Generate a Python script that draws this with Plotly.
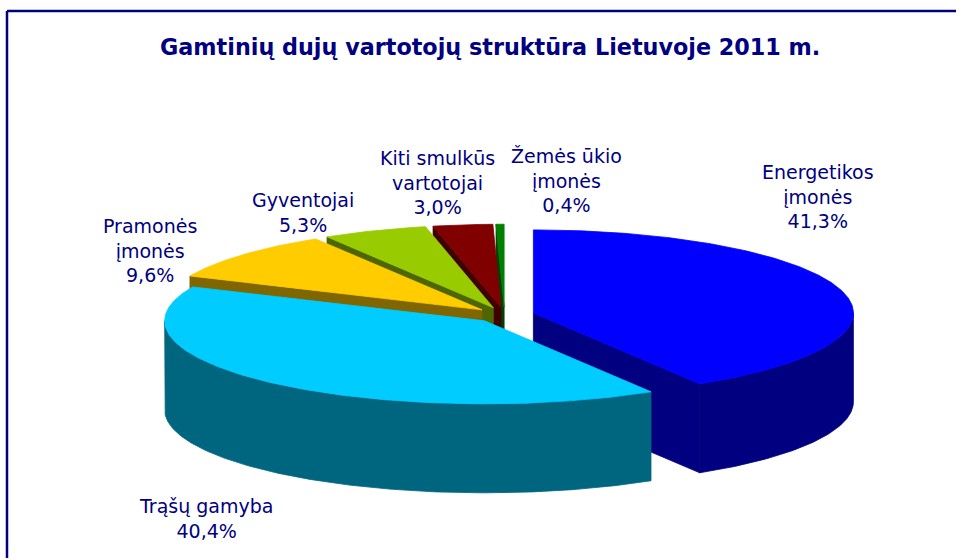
import numpy as np
import plotly.graph_objects as go

# ---------------- data ----------------
categories = ["Energetikos<br>įmonės", "Trąšų gamyba", "Pramonės<br>įmonės",
              "Gyventojai", "Kiti smulkūs<br>vartotojai", "Žemės ūkio<br>įmonės"]
values = [41.3, 40.4, 9.6, 5.3, 3.0, 0.4]
title_text = "Gamtinių dujų vartotojų struktūra Lietuvoje 2011 m."

# ---------------- styles / layout ----------------
top_colors = ["#0000FF", "#00CCFF", "#FFCC00", "#99CC00", "#800000", "#008000"]
side_colors = ["#000080", "#006680", "#806600", "#4D6600", "#400000", "#004000"]
label_pos = [(818, 196), (206, 518), (150, 250), (303, 212), (437, 182), (566, 180)]
text_color = "#000080"
FONT = "DejaVu Sans"

W, H = 960, 560
CX, CY = 504.5, 315       # pie centre (pixels)
RX, RY = 320, 83          # ellipse radii of the top face
DEPTH = 89                # thickness
EXPLODE = 30              # explosion distance
draw_order = [5, 4, 3, 2, 0, 1]   # back to front

total = sum(values)
bounds = np.concatenate([[0.0], np.cumsum(values)]) / total * 360.0


def centre(mid):
    r = np.radians(mid)
    return (CX + EXPLODE * np.sin(r), CY - EXPLODE * (RY / RX) * np.cos(r))


def arc(c, a0, a1, dz=0.0, n=None):
    if n is None:
        n = max(2, int(abs(a1 - a0) * 1.5) + 2)
    th = np.radians(np.linspace(a0, a1, n))
    return list(c[0] + RX * np.sin(th)), list(c[1] - RY * np.cos(th) + dz)


fig = go.Figure()


def poly(xs, ys, color):
    fig.add_trace(go.Scatter(x=xs + [xs[0]], y=ys + [ys[0]], mode="lines",
                             fill="toself", fillcolor=color,
                             line=dict(color=color, width=0.8),
                             hoverinfo="skip", showlegend=False))


for i in draw_order:
    s, t = bounds[i], bounds[i + 1]
    c = centre((s + t) / 2)
    # outer wall (front-facing part only)
    w0, w1 = max(s, 90.0), min(t, 270.0)
    if w1 > w0:
        tx, ty = arc(c, w0, w1)
        bx, by = arc(c, w1, w0, DEPTH)
        poly(tx + bx, ty + by, side_colors[i])
    # radial faces
    for ang, visible in ((s, np.sin(np.radians(s)) < -1e-6),
                         (t, np.sin(np.radians(t)) > 1e-6)):
        if visible:
            px, py = arc(c, ang, ang, n=1)
            poly([c[0], px[0], px[0], c[0]],
                 [c[1], py[0], py[0] + DEPTH, c[1] + DEPTH], side_colors[i])
    # top face
    tx, ty = arc(c, s, t)
    poly([c[0]] + tx, [c[1]] + ty, top_colors[i])

annotations = []
for i, (name, v) in enumerate(zip(categories, values)):
    txt = f"{name}<br>{v:.1f}".replace(".", ",") + "%"
    annotations.append(dict(x=label_pos[i][0], y=label_pos[i][1], xref="x", yref="y",
                            text=txt, showarrow=False, xanchor="center", yanchor="middle",
                            font=dict(family=FONT, size=19, color=text_color)))
annotations.append(dict(x=490, y=47, xref="x", yref="y", text=f"<b>{title_text}</b>",
                        showarrow=False, xanchor="center", yanchor="middle",
                        font=dict(family=FONT, size=22.3, color=text_color)))

# chart frame: left and top edges only
shapes = [
    dict(type="line", xref="x", yref="y", x0=7, y0=11, x1=W - 4, y1=11,
         line=dict(color=text_color, width=2.5), layer="above"),
    dict(type="line", xref="x", yref="y", x0=7, y0=11, x1=7, y1=H - 2,
         line=dict(color=text_color, width=2.5), layer="above"),
]

fig.update_layout(
    width=W, height=H, autosize=False,
    margin=dict(l=0, r=0, t=0, b=0, pad=0),
    paper_bgcolor="white", plot_bgcolor="white",
    xaxis=dict(range=[0, W], visible=False, showline=False, showgrid=False,
               zeroline=False, fixedrange=True),
    yaxis=dict(range=[H, 0], visible=False, showline=False, showgrid=False,
               zeroline=False, fixedrange=True),
    annotations=annotations, shapes=shapes,
)

fig.write_html("out.html", config={"displayModeBar": False},
               post_script="document.body.style.margin='0';document.body.style.overflow='hidden';")
